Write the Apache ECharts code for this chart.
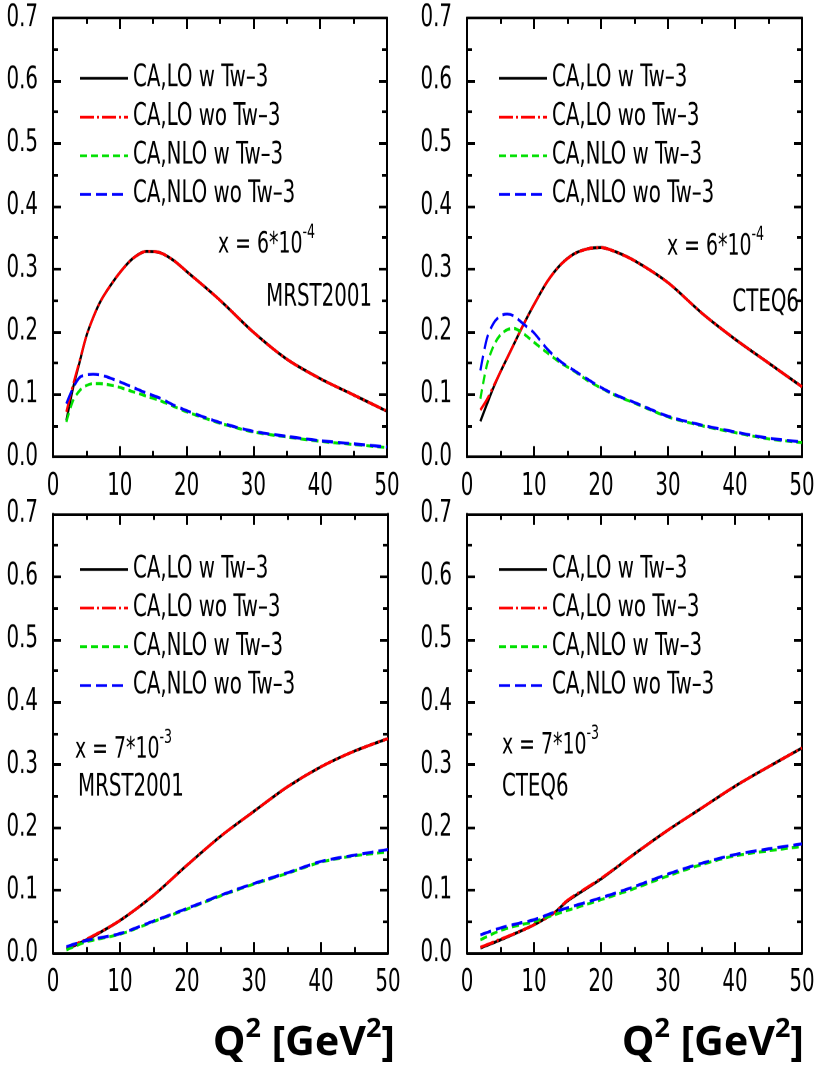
<!DOCTYPE html>
<html>
<head>
<meta charset="utf-8">
<script src="https://cdn.jsdelivr.net/npm/echarts@6/dist/echarts.min.js"></script>
<style>
  html, body { margin: 0; padding: 0; background: #fff; width: 820px; height: 1069px; }
  #page { position: relative; width: 820px; height: 1069px; background: #fff; }
  #chart { position: absolute; left: 0; top: 0; width: 820px; transform-origin: 0 0; }
</style>
</head>
<body>
<div id="page"><div id="chart"></div></div>
<script>
// Q^2 sample points (GeV^2) for each panel
const q2TopLeft = [2, 3, 4, 5, 6, 7, 8, 10, 12, 14, 16, 18, 20, 25, 30, 35, 40, 45, 50];
const q2TopRight = [2, 3, 4, 5, 6, 7, 8, 9, 10, 12, 14, 16, 18, 20, 22, 25, 30, 35, 40, 45, 50];
const q2BottomLeft = [2, 5, 10, 15, 20, 25, 30, 35, 40, 45, 50];
const q2BottomRight = [2, 5, 8, 10, 13, 15, 20, 25, 30, 35, 40, 45, 50];

// x = 6*10^-4, MRST2001
const mrstLoW    = [0.058, 0.110, 0.152, 0.193, 0.222, 0.246, 0.264, 0.294, 0.317, 0.328, 0.326, 0.314, 0.296, 0.250, 0.199, 0.156, 0.125, 0.099, 0.073];
const mrstLoWo   = [0.072, 0.115, 0.154, 0.193, 0.222, 0.246, 0.264, 0.294, 0.317, 0.328, 0.326, 0.314, 0.296, 0.250, 0.199, 0.156, 0.125, 0.099, 0.073];
const mrstNloW   = [0.056, 0.090, 0.106, 0.114, 0.117, 0.117, 0.116, 0.111, 0.104, 0.097, 0.090, 0.081, 0.072, 0.054, 0.040, 0.032, 0.025, 0.020, 0.015];
const mrstNloWo  = [0.085, 0.110, 0.127, 0.131, 0.132, 0.131, 0.128, 0.120, 0.111, 0.102, 0.094, 0.083, 0.074, 0.055, 0.041, 0.033, 0.026, 0.021, 0.016];

// x = 6*10^-4, CTEQ6
const cteqLoW    = [0.057, 0.085, 0.112, 0.136, 0.158, 0.180, 0.202, 0.223, 0.243, 0.280, 0.307, 0.324, 0.332, 0.334, 0.328, 0.313, 0.278, 0.230, 0.188, 0.150, 0.112];
const cteqLoWo   = [0.075, 0.092, 0.114, 0.136, 0.158, 0.180, 0.202, 0.223, 0.243, 0.280, 0.307, 0.324, 0.332, 0.334, 0.328, 0.313, 0.278, 0.230, 0.188, 0.150, 0.112];
const cteqNloW   = [0.093, 0.148, 0.178, 0.195, 0.203, 0.205, 0.200, 0.192, 0.183, 0.166, 0.150, 0.137, 0.122, 0.110, 0.099, 0.086, 0.064, 0.050, 0.039, 0.029, 0.023];
const cteqNloWo  = [0.138, 0.190, 0.214, 0.225, 0.228, 0.225, 0.216, 0.207, 0.198, 0.172, 0.152, 0.138, 0.124, 0.111, 0.100, 0.087, 0.065, 0.051, 0.040, 0.030, 0.024];

// x = 7*10^-3, MRST2001
const mrst7LoW   = [0.006, 0.021, 0.052, 0.092, 0.140, 0.186, 0.226, 0.265, 0.297, 0.322, 0.342];
const mrst7LoWo  = [0.008, 0.022, 0.052, 0.092, 0.140, 0.186, 0.226, 0.265, 0.297, 0.322, 0.342];
const mrst7NloW  = [0.005, 0.018, 0.030, 0.050, 0.070, 0.091, 0.110, 0.127, 0.145, 0.155, 0.161];
const mrst7NloWo = [0.010, 0.020, 0.031, 0.051, 0.071, 0.092, 0.111, 0.128, 0.146, 0.156, 0.165];

// x = 7*10^-3, CTEQ6
const cteq7LoW   = [0.008, 0.021, 0.035, 0.045, 0.064, 0.083, 0.118, 0.158, 0.196, 0.231, 0.266, 0.297, 0.327];
const cteq7LoWo  = [0.009, 0.022, 0.035, 0.045, 0.064, 0.084, 0.119, 0.158, 0.196, 0.231, 0.266, 0.297, 0.327];
const cteq7NloW  = [0.021, 0.036, 0.045, 0.050, 0.061, 0.068, 0.085, 0.103, 0.123, 0.141, 0.155, 0.163, 0.170];
const cteq7NloWo = [0.029, 0.040, 0.048, 0.053, 0.065, 0.072, 0.088, 0.106, 0.126, 0.143, 0.157, 0.166, 0.174];

const seriesNames = ['CA,LO w Tw\u20133', 'CA,LO wo Tw\u20133', 'CA,NLO w Tw\u20133', 'CA,NLO wo Tw\u20133'];
const xTicks = [0, 10, 20, 30, 40, 50];
const yTicks = [0.0, 0.1, 0.2, 0.3, 0.4, 0.5, 0.6, 0.7];

const panels = [
  { q2: q2TopLeft,     values: [mrstLoW, mrstLoWo, mrstNloW, mrstNloWo] },
  { q2: q2TopRight,    values: [cteqLoW, cteqLoWo, cteqNloW, cteqNloWo] },
  { q2: q2BottomLeft,  values: [mrst7LoW, mrst7LoWo, mrst7NloW, mrst7NloWo] },
  { q2: q2BottomRight, values: [cteq7LoW, cteq7LoWo, cteq7NloW, cteq7NloWo] }
];

// The figure uses tall, narrow lettering: the chart is laid out on a
// vertically compressed canvas which CSS then stretches by STRETCH.
// All vertical page positions below are given in final page pixels and
// converted with sy().
const STRETCH = 1.38;
const PAGE_W = 820, PAGE_H = 1069;
const sy = v => v / STRETCH;

// frames (page pixels) and legend anchor (centre of first entry)
const frames = [
  { left: 53,  top: 18,  width: 334, height: 439, legendLeft: 79,  legendY: 77 },
  { left: 467, top: 18,  width: 335, height: 439, legendLeft: 498, legendY: 77 },
  { left: 53,  top: 514, width: 335, height: 439, legendLeft: 79,  legendY: 568 },
  { left: 467, top: 514, width: 335, height: 439, legendLeft: 498, legendY: 568 }
];

const NARROW = "'DejaVu Sans Condensed', 'Liberation Sans Narrow', sans-serif";
const BOLD_SANS = "'Noto Sans', 'Open Sans', sans-serif";
const TICK_FONT = 22;
const LEGEND_FONT = 22;
const LEGEND_LINE = 22;
const LEGEND_STEP = 38.7;

const lineStyles = [
  { color: '#000000', width: 2.2, type: 'solid' },
  { color: '#ff0000', width: 2.2, type: [14, 3, 2, 3] },
  { color: '#00e000', width: 2.2, type: [7, 4] },
  { color: '#0000ff', width: 2.2, type: [11, 5] }
];

const chartEl = document.getElementById('chart');
chartEl.style.height = sy(PAGE_H) + 'px';
chartEl.style.transform = 'scaleY(' + STRETCH + ')';

const grid = [], xAxis = [], yAxis = [], series = [], legend = [];

frames.forEach((f, i) => {
  grid.push({ left: f.left, top: sy(f.top), width: f.width, height: sy(f.height), containLabel: false });

  const xBase = {
    gridIndex: i, type: 'value', min: xTicks[0], max: xTicks[xTicks.length - 1], interval: 10,
    axisLine: { show: true, onZero: false, lineStyle: { color: '#000', width: 2 } },
    axisTick: { show: true, inside: true, length: sy(11), lineStyle: { color: '#000', width: 2 } },
    minorTick: { show: true, splitNumber: 2, length: sy(6), lineStyle: { color: '#000', width: 2 } },
    splitLine: { show: false }, minorSplitLine: { show: false }
  };
  xAxis.push(Object.assign({}, xBase, {
    position: 'bottom',
    axisLabel: { show: true, color: '#000', fontSize: TICK_FONT, fontFamily: NARROW,
      margin: sy(30) - TICK_FONT / 2 }
  }));
  xAxis.push(Object.assign({}, xBase, { position: 'top', axisLabel: { show: false } }));

  const yBase = {
    gridIndex: i, type: 'value', min: yTicks[0], max: yTicks[yTicks.length - 1], interval: 0.1,
    axisLine: { show: true, onZero: false, lineStyle: { color: '#000', width: 2 } },
    axisTick: { show: true, inside: true, length: 8, lineStyle: { color: '#000', width: 2 } },
    minorTick: { show: true, splitNumber: 2, length: 5, lineStyle: { color: '#000', width: 2 } },
    splitLine: { show: false }, minorSplitLine: { show: false }
  };
  yAxis.push(Object.assign({}, yBase, {
    position: 'left',
    axisLabel: { show: true, color: '#000', fontSize: TICK_FONT, fontFamily: NARROW, margin: 15,
      formatter: v => Number(v).toFixed(1) }
  }));
  yAxis.push(Object.assign({}, yBase, { position: 'right', axisLabel: { show: false } }));

  const p = panels[i];
  p.values.forEach((vals, k) => {
    series.push({
      name: seriesNames[k], type: 'line', xAxisIndex: 2 * i, yAxisIndex: 2 * i,
      data: p.q2.map((q, j) => [q, vals[j]]),
      smooth: 0.3, symbol: 'none', showSymbol: false,
      lineStyle: lineStyles[k], itemStyle: { color: lineStyles[k].color },
      z: 2 + k, silent: true, animation: false
    });
  });

  legend.push({
    data: seriesNames, orient: 'vertical',
    left: f.legendLeft, top: sy(f.legendY) - LEGEND_LINE / 2 + 1,
    padding: 0, itemWidth: 48, itemHeight: 2,
    itemGap: sy(LEGEND_STEP) - LEGEND_LINE, itemTextGap: 10,
    selectedMode: false,
    itemStyle: { opacity: 0, borderWidth: 0 },
    textStyle: { color: '#000', fontSize: LEGEND_FONT, fontFamily: NARROW, lineHeight: LEGEND_LINE }
  });
});

// rich text for the Bjorken-x annotations (superscript exponent)
const annRich = {
  m: { fontSize: 21, fontFamily: NARROW, color: '#000', lineHeight: 26, verticalAlign: 'bottom' },
  s: { fontSize: 14, fontFamily: NARROW, color: '#000', lineHeight: 14, verticalAlign: 'top' }
};
function annotation(x, yPage, text) {
  return { type: 'text', x: x, y: sy(yPage) - 2.5, silent: true,
    style: { text: text, rich: annRich, align: 'left', verticalAlign: 'middle' } };
}
function plainText(x, yPage, text, align) {
  return { type: 'text', x: x, y: sy(yPage), silent: true,
    style: { text: text, fill: '#000', fontSize: 22, fontFamily: NARROW, align: align, verticalAlign: 'middle' } };
}
// axis title keeps normal proportions: undo the page stretch locally
const axisTitleRich = {
  b: { fontSize: 41, fontWeight: 'bold', fontFamily: BOLD_SANS, color: '#000', lineHeight: 48, verticalAlign: 'bottom' },
  s: { fontSize: 27, fontWeight: 'bold', fontFamily: BOLD_SANS, color: '#000', lineHeight: 32, verticalAlign: 'top' }
};
function axisTitle(x, yPage) {
  return { type: 'text', x: x, y: sy(yPage), scaleY: 1 / STRETCH, silent: true,
    style: { text: '{b|Q}{s|2}{b| [GeV}{s|2}{b|]}', rich: axisTitleRich, align: 'center', verticalAlign: 'middle' } };
}

const graphic = [
  annotation(218, 245, '{m|x = 6*10}{s|-4}'),
  plainText(372, 298, 'MRST2001', 'right'),
  annotation(667, 247, '{m|x = 6*10}{s|-4}'),
  plainText(799, 303, 'CTEQ6', 'right'),
  annotation(75, 750, '{m|x = 7*10}{s|-3}'),
  plainText(78, 788, 'MRST2001', 'left'),
  annotation(502, 746, '{m|x = 7*10}{s|-3}'),
  plainText(502, 788, 'CTEQ6', 'left'),
  axisTitle(304, 1040),
  axisTitle(713, 1040)
];

const chart = echarts.init(chartEl, null, { renderer: 'canvas', devicePixelRatio: 2 });
chart.setOption({
  backgroundColor: '#ffffff',
  animation: false,
  grid: grid, xAxis: xAxis, yAxis: yAxis, legend: legend, series: series, graphic: graphic
});
</script>
</body>
</html>
